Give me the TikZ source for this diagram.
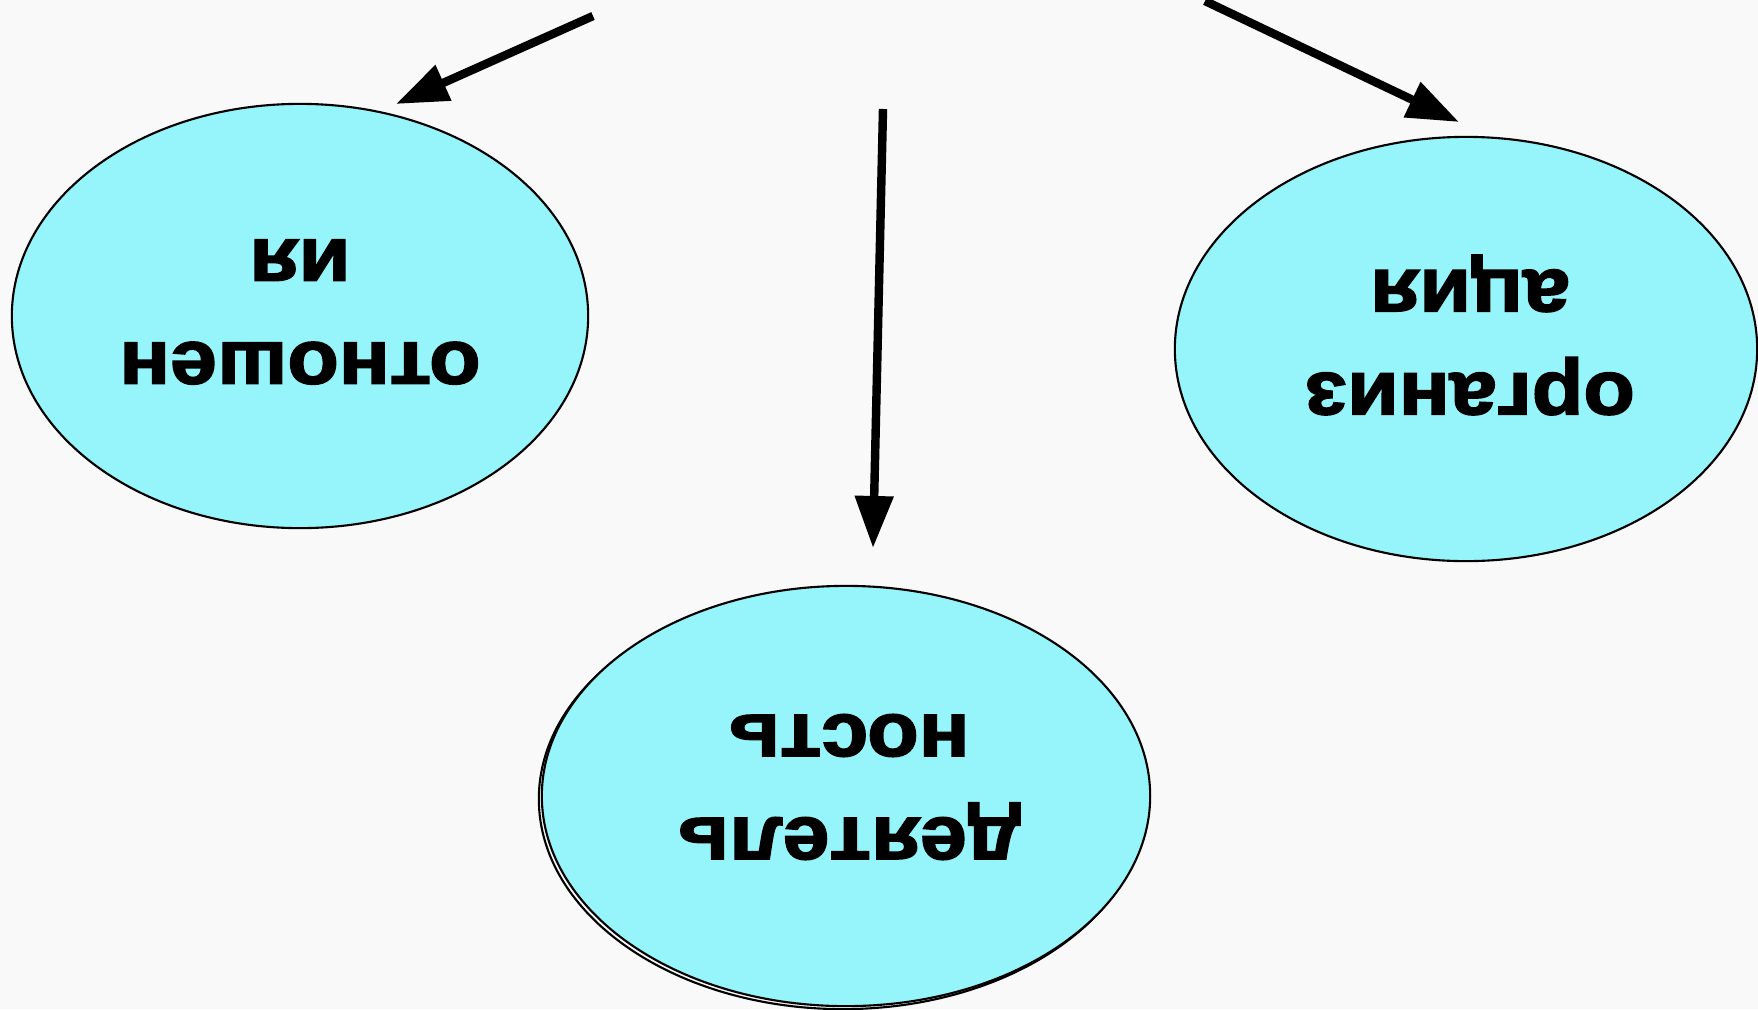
\documentclass[tikz,border=0pt]{standalone}
\usepackage{fontspec}
\setmainfont{Liberation Sans}
\newfontfamily\heavyfont[FakeBold=2.2,FakeStretch=1.09]{Liberation Sans Bold}
\usetikzlibrary{shapes.geometric,arrows.meta}
\definecolor{bgcol}{RGB}{249,249,249}
\definecolor{cyanfill}{RGB}{150,245,250}
\tikzset{
  blob/.style={ellipse, draw=black, line width=0.6pt, fill=cyanfill, inner sep=0pt},
  lbl/.style={rotate=180, align=center, font=\heavyfont\fontsize{22pt}{29.3pt}\selectfont},
  arr/.style={line width=2.4pt, -{Triangle[length=0.52cm,width=0.37cm]}}
}
\begin{document}
\begin{tikzpicture}[x=0.01cm,y=-0.01cm]
\fill[bgcol] (0,0) rectangle (1758,1009);
\useasboundingbox (0,0) rectangle (1758,1009);
% shadow outline of bottom ellipse
\draw[line width=0.6pt] (843,799) ellipse [x radius=3.04cm, y radius=2.1cm];
\node[blob, minimum width=5.76cm, minimum height=4.24cm] (n1) at (300,316) {};
\node[blob, minimum width=5.82cm, minimum height=4.24cm] (n2) at (1466,349) {};
\node[blob, minimum width=6.08cm, minimum height=4.2cm] (n3) at (846,796) {};
\node[lbl] (t1) at (300,312) {отношен\\ия};
\node[lbl] (t2) at (1470,335) {организ\\ация};
\node[lbl] (t3) at (849,787) {деятель\\ность};
\coordinate (a1s) at (593,16);
\coordinate (a1e) at (396,104);
\coordinate (a2s) at (883,109);
\coordinate (a2e) at (873,548);
\coordinate (a3s) at (1205,1);
\coordinate (a3e) at (1459,122);
\draw[arr] (a1s) -- (a1e);
\draw[arr] (a2s) -- (a2e);
\draw[arr] (a3s) -- (a3e);
\end{tikzpicture}
\end{document}
